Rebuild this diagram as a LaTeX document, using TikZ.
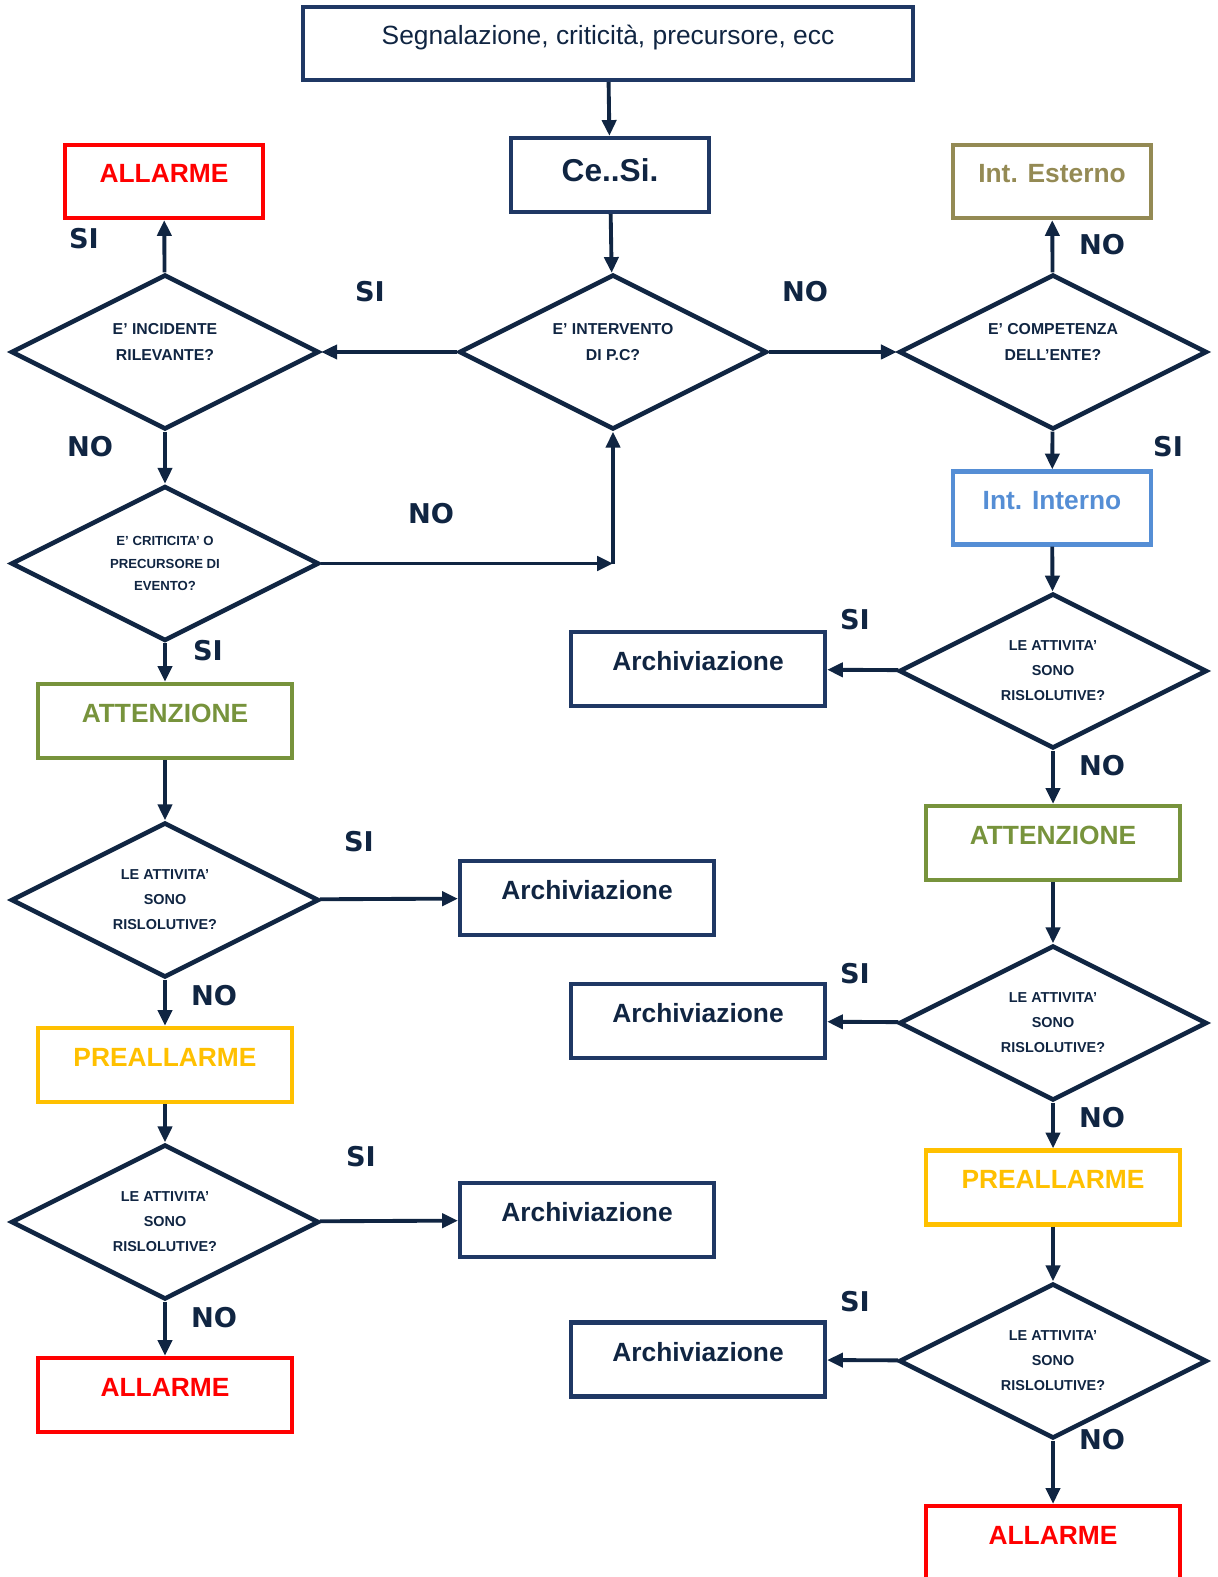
\documentclass[tikz,border=0pt]{standalone}
\usepackage{fontspec}
\setmainfont{Liberation Sans}
\newfontfamily\answerfont{DejaVu Sans}
\usetikzlibrary{shapes.geometric}
\usetikzlibrary{arrows.meta}

\definecolor{navy}{RGB}{16,37,66}
\definecolor{frame}{RGB}{31,56,100}
\definecolor{alarmred}{RGB}{255,0,0}
\definecolor{extolive}{RGB}{148,138,84}
\definecolor{intblue}{RGB}{85,142,213}
\definecolor{attgreen}{RGB}{119,147,60}
\definecolor{preyellow}{RGB}{255,192,0}

\tikzset{
    box/.style={draw=frame, rectangle, line width=2.4pt, inner sep=0pt, text=navy,
        minimum width=5.08cm, minimum height=1.48cm, text depth=9pt,
        font=\bfseries\fontsize{15}{18}\selectfont},
    small box/.style={box, minimum width=3.96cm, minimum height=1.46cm},
    query/.style={draw=navy, diamond, aspect=2, line width=2.6pt, inner sep=0pt,
        minimum width=6.16cm, minimum height=3.1cm, align=center, text=navy,
        font=\bfseries\fontsize{8.2}{14.2}\selectfont},
    answer/.style={text=navy, font=\answerfont\bfseries\fontsize{15.5}{18}\selectfont},
    >={Triangle[length=9pt, width=8pt]},
    flow/.style={->, draw=navy, line width=2.2pt}
}

\begin{document}
\begin{tikzpicture}[x=0.02cm, y=-0.02cm]
        \useasboundingbox (0, 0) rectangle (1217, 1577);

        \node(start) [box, minimum width=12.2cm, minimum height=1.46cm, text depth=9.6pt, font=\fontsize{15}{18}\selectfont] at (608, 43.5) {Segnalazione, criticità, precursore, ecc};
        \node(cesi) [small box, minimum height=1.48cm, text depth=5.7pt, font=\bfseries\fontsize{18}{21}\selectfont] at (610, 175) {Ce..Si.};

        \node(pc) [query, text depth=11.4pt, font=\bfseries\fontsize{9}{15.3}\selectfont] at (613, 352) {E’ INTERVENTO\\DI P.C?};
        \node(incidente) [query, text depth=11.4pt, font=\bfseries\fontsize{9}{15.3}\selectfont] at (165, 352) {E’ INCIDENTE\\RILEVANTE?};
        \node(competenza) [query, text depth=11.4pt, font=\bfseries\fontsize{9}{15.3}\selectfont] at (1053, 352) {E’ COMPETENZA\\DELL’ENTE?};
        \node(criticita) [query, font=\bfseries\fontsize{7.5}{13}\selectfont] at (165, 563.5) {E’ CRITICITA’ O\\PRECURSORE DI\\EVENTO?};

        \node(allarme1) [small box, draw=alarmred, text=alarmred] at (164, 181.5) {ALLARME};
        \node(esterno) [small box, draw=extolive, text=extolive] at (1052, 181.5) {Int. Esterno};
        \node(interno) [small box, draw=intblue, text=intblue] at (1052, 508) {Int. Interno};

        \node(attenzione1) [box, draw=attgreen, text=attgreen] at (165, 721) {ATTENZIONE};
        \node(risolve1) [query] at (165, 900) {LE ATTIVITA’\\SONO\\RISLOLUTIVE?};
        \node(archivio1) [box] at (587, 898) {Archiviazione};
        \node(preallarme1) [box, draw=preyellow, text=preyellow] at (165, 1065) {PREALLARME};
        \node(risolve2) [query] at (165, 1222) {LE ATTIVITA’\\SONO\\RISLOLUTIVE?};
        \node(archivio2) [box] at (587, 1220) {Archiviazione};
        \node(allarme2) [box, draw=alarmred, text=alarmred] at (165, 1395) {ALLARME};

        \node(risolve3) [query] at (1053, 671) {LE ATTIVITA’\\SONO\\RISLOLUTIVE?};
        \node(archivio3) [box] at (698, 669) {Archiviazione};
        \node(attenzione2) [box, draw=attgreen, text=attgreen] at (1053, 843) {ATTENZIONE};
        \node(risolve4) [query] at (1053, 1023) {LE ATTIVITA’\\SONO\\RISLOLUTIVE?};
        \node(archivio4) [box] at (698, 1021) {Archiviazione};
        \node(preallarme2) [box, draw=preyellow, text=preyellow] at (1053, 1187.5) {PREALLARME};
        \node(risolve5) [query] at (1053, 1361) {LE ATTIVITA’\\SONO\\RISLOLUTIVE?};
        \node(archivio5) [box] at (698, 1359.5) {Archiviazione};
        \node(allarme3) [box, draw=alarmred, text=alarmred] at (1053, 1543) {ALLARME};

        \node(si1) [answer] at (84, 239) {SI};
        \node(si2) [answer] at (370, 292) {SI};
        \node(no1) [answer] at (805, 292) {NO};
        \node(no2) [answer] at (1102, 245) {NO};
        \node(no3) [answer] at (90, 447) {NO};
        \node(si3) [answer] at (1168, 447) {SI};
        \node(no4) [answer] at (431, 514) {NO};
        \node(si4) [answer] at (208, 651) {SI};
        \node(si5) [answer] at (855, 620) {SI};
        \node(no5) [answer] at (1102, 766) {NO};
        \node(si6) [answer] at (359, 842) {SI};
        \node(no6) [answer] at (214, 996) {NO};
        \node(si7) [answer] at (855, 974) {SI};
        \node(no7) [answer] at (1102, 1118) {NO};
        \node(si8) [answer] at (361, 1157) {SI};
        \node(no8) [answer] at (214, 1318) {NO};
        \node(si9) [answer] at (855, 1302) {SI};
        \node(no9) [answer] at (1102, 1440) {NO};

        \coordinate(corner) at (criticita.east -| pc.south);

        \draw[flow] (start) -- (cesi);
        \draw[flow] (cesi) -- (pc);
        \draw[flow] (pc) -- (incidente);
        \draw[flow] (pc) -- (competenza);

        \draw[flow] (incidente) -- (allarme1);
        \draw[flow] (incidente) -- (criticita);
        \draw[flow] (criticita) -- (corner);
        \draw[flow] (corner) -- (pc);

        \draw[flow] (criticita) -- (attenzione1);
        \draw[flow] (attenzione1) -- (risolve1);
        \draw[flow] (risolve1) -- (archivio1);
        \draw[flow] (risolve1) -- (preallarme1);
        \draw[flow] (preallarme1) -- (risolve2);
        \draw[flow] (risolve2) -- (archivio2);
        \draw[flow] (risolve2) -- (allarme2);

        \draw[flow] (competenza) -- (esterno);
        \draw[flow] (competenza) -- (interno);
        \draw[flow] (interno) -- (risolve3);
        \draw[flow] (risolve3) -- (archivio3);
        \draw[flow] (risolve3) -- (attenzione2);
        \draw[flow] (attenzione2) -- (risolve4);
        \draw[flow] (risolve4) -- (archivio4);
        \draw[flow] (risolve4) -- (preallarme2);
        \draw[flow] (preallarme2) -- (risolve5);
        \draw[flow] (risolve5) -- (archivio5);
        \draw[flow] (risolve5) -- (allarme3);
    \end{tikzpicture}
\end{document}
